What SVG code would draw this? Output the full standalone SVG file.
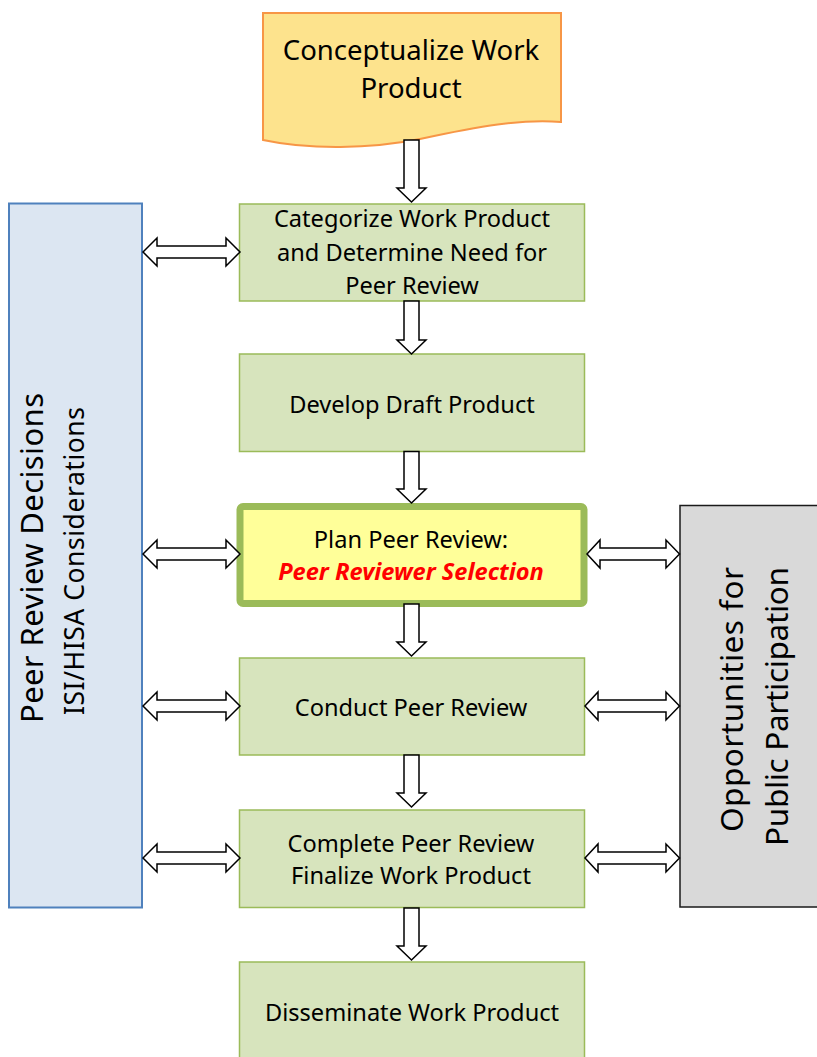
<svg xmlns="http://www.w3.org/2000/svg" width="817" height="1057" viewBox="0 0 817 1057">
<style>
text{font-family:"Noto Sans","Open Sans","DejaVu Sans",sans-serif;fill:#000;text-anchor:middle}
.box{fill:#d7e4bd;stroke:#9bbb59;stroke-width:1.5}
.t{font-size:23.6px}
.arr{fill:#fff;stroke:#000;stroke-width:1.5;stroke-linejoin:miter}
</style>
<rect width="817" height="1057" fill="#fff"/>

<g id="side-left">
<rect x="9" y="203.5" width="133" height="704" fill="#dce6f2" stroke="#4f81bd" stroke-width="2"/>
<text transform="translate(43,558) rotate(-90)" style="font-size:31px" textLength="330">Peer Review  Decisions</text>
<text transform="translate(84,561) rotate(-90)" style="font-size:26.5px" textLength="308">ISI/HISA Considerations</text>
</g>

<g id="side-right">
<rect x="680" y="505.5" width="150" height="401.5" fill="#d9d9d9" stroke="#1a1a1a" stroke-width="1.5"/>
<text transform="translate(743,699.5) rotate(-90)" style="font-size:31.5px" textLength="265">Opportunities for</text>
<text transform="translate(788,706.5) rotate(-90)" style="font-size:31.5px" textLength="279">Public Participation</text>
</g>

<g id="n-conceptualize">
<path d="M263,13 H561 V122 C520,119 480,126 420,139 C370,149 310,150 263,140 Z" fill="#fde38d" stroke="#f79646" stroke-width="2"/>
<text x="411" y="60" style="font-size:27.5px">Conceptualize Work</text>
<text x="411" y="98" style="font-size:27.5px">Product</text>
</g>

<g id="n-categorize">
<rect class="box" x="239.5" y="204" width="345" height="97"/>
<text class="t" x="412" y="227">Categorize Work Product</text>
<text class="t" x="412" y="261">and Determine Need for</text>
<text class="t" x="412" y="294">Peer Review</text>
</g>

<g id="n-develop">
<rect class="box" x="239.5" y="354" width="345" height="97.5"/>
<text class="t" x="412" y="413">Develop Draft Product</text>
</g>

<g id="n-plan">
<rect x="240" y="506.5" width="344" height="97" rx="3" fill="#ffff99" stroke="#9bbb59" stroke-width="7"/>
<text class="t" x="411" y="548">Plan Peer Review:</text>
<text class="t" x="411" y="580" style="fill:#ff0000;font-weight:bold;font-style:italic">Peer Reviewer Selection</text>
</g>

<g id="n-conduct">
<rect class="box" x="239.5" y="658" width="345" height="97"/>
<text class="t" x="411" y="716">Conduct Peer Review</text>
</g>

<g id="n-complete">
<rect class="box" x="239.5" y="810" width="345" height="97.5"/>
<text class="t" x="411" y="852">Complete Peer Review</text>
<text class="t" x="411" y="884">Finalize Work Product</text>
</g>

<g id="n-disseminate">
<rect class="box" x="239.5" y="962" width="345" height="110"/>
<text class="t" x="412" y="1021">Disseminate Work Product</text>
</g>

<g id="connectors" class="arr">
<path d="M404,140 V188 H397 L411.5,202 L426,188 H419 V140 Z"/>
<path d="M404,301 V340 H397 L411.5,354 L426,340 H419 V301 Z"/>
<path d="M404,451.5 V489 H397 L411.5,503 L426,489 H419 V451.5 Z"/>
<path d="M404,604 V642 H397 L411.5,656 L426,642 H419 V604 Z"/>
<path d="M404,755 V793 H397 L411.5,807 L426,793 H419 V755 Z"/>
<path d="M404,908 V946 H397 L411.5,960 L426,946 H419 V908 Z"/>

<path d="M143,252 L157,238 V246 H226 V238 L240,252 L226,266 V258 H157 V266 Z"/>
<path d="M143,554 L157,540 V548 H226 V540 L240,554 L226,568 V560 H157 V568 Z"/>
<path d="M143,706 L157,692 V700 H226 V692 L240,706 L226,720 V712 H157 V720 Z"/>
<path d="M143,858 L157,844 V852 H226 V844 L240,858 L226,872 V864 H157 V872 Z"/>

<path d="M587,554 L600,540 V548 H666 V540 L679.5,554 L666,568 V560 H600 V568 Z"/>
<path d="M585,706 L598,692 V700 H666 V692 L679.5,706 L666,720 V712 H598 V720 Z"/>
<path d="M585,858 L598,844 V852 H666 V844 L679.5,858 L666,872 V864 H598 V872 Z"/>
</g>
</svg>
